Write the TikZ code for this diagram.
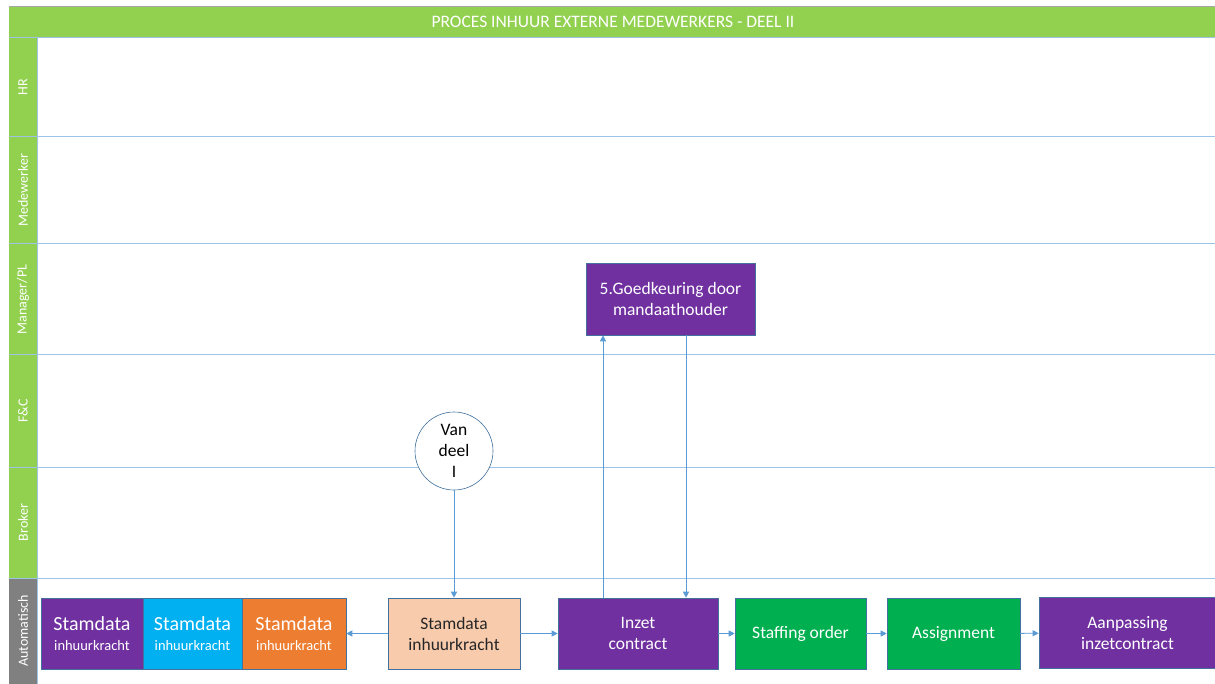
\documentclass[tikz,border=0pt]{standalone}
\usepackage{fontspec}
\setmainfont{Carlito}
\usetikzlibrary{arrows.meta}

\definecolor{titlegreen}{HTML}{92D050}
\definecolor{lanegray}{HTML}{808080}
\definecolor{laneline}{HTML}{9DC3E6}
\definecolor{flowblue}{HTML}{5B9BD5}
\definecolor{boxline}{HTML}{41719C}
\definecolor{purp}{HTML}{7030A0}
\definecolor{cyanbox}{HTML}{00B0F0}
\definecolor{orangebox}{HTML}{ED7D31}
\definecolor{peach}{HTML}{F8CBAD}
\definecolor{okgreen}{HTML}{00B050}

\begin{document}
\begin{tikzpicture}[x=1pt,y=-1pt,
    box/.style={draw=boxline, line width=0.6pt, minimum height=71pt,
      inner sep=2pt, align=center, text=white, font=\fontsize{17.5}{21}\selectfont},
    flow/.style={draw=flowblue, line width=0.9pt,
      -{Triangle[length=6pt,width=6pt]}},
    lanelabel/.style={rotate=90, text=white, font=\fontsize{14}{16}\selectfont}]
  \useasboundingbox (0,0) rectangle (1215,684);
  \fill[white] (0,0) rectangle (1215,684);

  % title bar
  \draw[gray!70, line width=1.5pt] (9,6.5) -- (1215,6.5);
  \fill[titlegreen] (9,7) rectangle (1215,38);
  \node[text=white, font=\fontsize{17.5}{20}\selectfont] (title) at (613,22)
    {PROCES INHUUR EXTERNE MEDEWERKERS - DEEL II};

  % lane headers
  \fill[titlegreen] (9,38) rectangle (37,578);
  \fill[lanegray] (9,578) rectangle (37,684);
  \foreach \y in {38, 137, 244, 355, 467, 578}
    \draw[laneline, line width=1pt] (9,\y) -- (1215,\y);
  \draw[laneline, line width=1pt] (37,38) -- (37,684);
  \node[lanelabel] (hr) at (23,87.5) {HR};
  \node[lanelabel] (mw) at (23,190.5) {Medewerker};
  \node[lanelabel] (mgr) at (23,299.5) {Manager/PL};
  \node[lanelabel] (fc) at (23,411) {F\&C};
  \node[lanelabel] (brk) at (23,522.5) {Broker};
  \node[lanelabel] (auto) at (23,631) {Automatisch};

  % stamdata blocks
  \node[box, fill=purp, minimum width=102pt] (sdpurp) at (92,633.5)
    {\fontsize{20}{21}\selectfont Stamdata\\[-1pt]\fontsize{14.5}{18}\selectfont inhuurkracht};
  \node[box, fill=cyanbox, minimum width=99pt] (sdcyan) at (192.5,633.5)
    {\fontsize{20}{21}\selectfont Stamdata\\[-1pt]\fontsize{14.5}{18}\selectfont inhuurkracht};
  \node[box, fill=orangebox, minimum width=104pt] (sdorange) at (294,633.5)
    {\fontsize{20}{21}\selectfont Stamdata\\[-1pt]\fontsize{14.5}{18}\selectfont inhuurkracht};

  \node[box, fill=peach, text=black!85, minimum width=132pt] (sdpeach) at (454,633.5)
    {Stamdata\\inhuurkracht};
  \node[box, fill=purp, minimum width=160pt] (inzet) at (638,633.5)
    {Inzet\\contract};
  \node[box, fill=okgreen, minimum width=131pt] (staff) at (800.5,633.5)
    {Staffing order};
  \node[box, fill=okgreen, minimum width=133pt] (assign) at (953.5,633.5)
    {Assignment};
  \node[box, fill=purp, minimum width=177pt] (aanp) at (1127.5,633)
    {Aanpassing\\inzetcontract};

  \node[box, fill=purp, minimum width=169pt, minimum height=72pt] (goed) at (670.5,299)
    {5.Goedkeuring door\\mandaathouder};

  \node[circle, draw=boxline, line width=0.6pt, fill=white, minimum size=78pt,
    inner sep=0pt, align=center, font=\fontsize{17.5}{21}\selectfont] (van) at (454,451)
    {Van\\deel\\I};

  % connectors
  \draw[flow] (van) -- (sdpeach);
  \draw[flow] (sdpeach) -- (sdorange);
  \draw[flow] (sdpeach) -- (inzet);
  \draw[flow] ([xshift=-35pt]inzet.north) -- ([xshift=-35pt]inzet.north |- goed.south);
  \draw[flow] ([xshift=15.5pt]goed.south) -- ([xshift=15.5pt]goed.south |- inzet.north);
  \draw[flow] (inzet) -- (staff);
  \draw[flow] (staff) -- (assign);
  \draw[flow] (assign) -- (aanp);
\end{tikzpicture}
\end{document}
